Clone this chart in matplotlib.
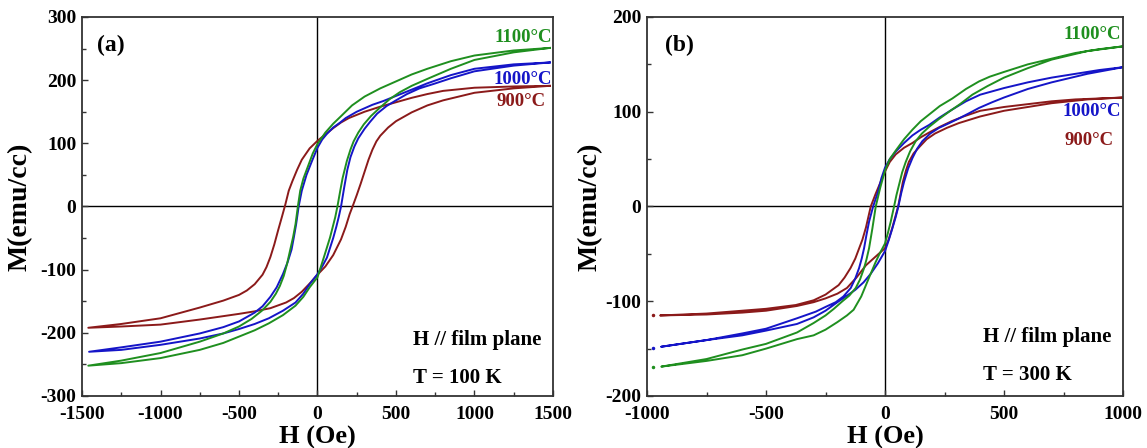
import numpy as np
import matplotlib
matplotlib.use("Agg")
import matplotlib.pyplot as plt
from matplotlib.ticker import MultipleLocator

plt.rcParams['font.family'] = ['Liberation Serif', 'DejaVu Serif']
plt.rcParams['font.weight'] = 'bold'
plt.rcParams['axes.unicode_minus'] = False

# ---- panel (a), T = 100 K ----
# descending branch (from +H to -H) and ascending branch (from -H to +H)
a900_down_H = [1480, 1250, 1000, 800, 700, 600, 500, 400, 300, 200, 150, 100, 50, 0, -50, -100, -130, -160, -183, -205, -225, -250, -275, -300, -325, -350, -400, -450, -500, -600, -750, -1000, -1250, -1460]
a900_down_M = [191, 190, 188, 183, 178, 172, 165, 158, 150, 140, 133, 124, 114, 104, 92, 74, 58, 40, 25, 3, -15, -37, -60, -80, -96, -108, -123, -133, -140, -149, -160, -177, -186, -192]
a900_up_H = [-1460, -1250, -1000, -750, -500, -400, -300, -200, -150, -100, -50, 0, 50, 100, 150, 180, 205, 228, 250, 275, 300, 325, 350, 375, 400, 450, 500, 600, 700, 800, 1000, 1250, 1480]
a900_up_M = [-192, -190, -187, -179, -170, -166, -161, -152, -145, -135, -122, -108, -95, -77, -52, -32, -12, 3, 18, 36, 55, 74, 90, 103, 112, 125, 135, 149, 160, 168, 180, 187, 191]

a1000_down_H = [1480, 1250, 1000, 850, 700, 600, 500, 420, 350, 250, 180, 145, 100, 60, 30, 0, -35, -70, -100, -120, -136, -150, -165, -190, -220, -260, -300, -350, -400, -500, -600, -750, -1000, -1250, -1455]
a1000_down_M = [228, 225, 218, 208, 195, 185, 175, 167, 161, 150, 140, 133, 125, 115, 106, 93, 72, 50, 25, 0, -28, -48, -68, -88, -107, -128, -143, -158, -168, -182, -191, -201, -214, -223, -230]
a1000_up_H = [-1455, -1250, -1000, -750, -600, -500, -400, -310, -220, -140, -90, -50, 0, 30, 60, 100, 120, 135, 150, 170, 190, 210, 235, 260, 300, 335, 380, 440, 500, 570, 650, 740, 850, 1000, 1250, 1480]
a1000_up_M = [-230, -227, -219, -209, -201, -194, -186, -177, -165, -152, -138, -123, -107, -95, -81, -50, -32, -17, 0, 30, 58, 78, 95, 108, 123, 134, 147, 159, 168, 178, 187, 194, 203, 214, 223, 228]

a1100_down_H = [1480, 1250, 1000, 850, 700, 600, 500, 400, 300, 220, 150, 100, 50, 0, -30, -60, -90, -110, -125, -140, -155, -175, -195, -215, -240, -265, -300, -354, -420, -500, -600, -750, -1000, -1250, -1460]
a1100_down_M = [251, 247, 239, 230, 218, 209, 198, 187, 174, 160, 143, 131, 117, 99, 84, 64, 44, 25, 0, -28, -48, -70, -92, -110, -126, -138, -151, -165, -178, -190, -201, -214, -232, -244, -252]
a1100_up_H = [-1460, -1250, -1000, -750, -600, -500, -400, -310, -220, -140, -90, -50, 0, 40, 80, 113, 127, 145, 160, 187, 210, 230, 260, 295, 340, 400, 460, 525, 600, 700, 850, 1000, 1250, 1480]
a1100_up_M = [-252, -248, -240, -227, -216, -206, -196, -185, -172, -157, -143, -128, -112, -81, -49, -17, 0, 25, 45, 72, 90, 103, 117, 130, 143, 157, 170, 181, 191, 202, 218, 232, 244, 251]

# ---- panel (b), T = 300 K ----
b900_down_H = [1000, 900, 800, 700, 600, 500, 400, 330, 280, 230, 185, 150, 115, 80, 45, 20, 0, -20, -40, -60, -80, -95, -110, -125, -145, -170, -195, -250, -300, -375, -500, -600, -750, -945]
b900_down_M = [115, 114, 113, 111, 108, 105, 101, 95, 90, 84, 78, 73, 67, 62, 55, 47, 37, 25, 13, 0, -22, -35, -45, -55, -65, -75, -83, -93, -99, -104, -108, -110, -113, -115]
b900_up_H = [-945, -750, -600, -500, -370, -300, -250, -200, -160, -120, -80, -40, 0, 15, 30, 42, 55, 65, 75, 88, 100, 120, 145, 175, 210, 260, 310, 400, 500, 600, 700, 850, 1000]
b900_up_M = [-115, -114, -112, -110, -105, -101, -97, -92, -86, -75, -62, -53, -44, -35, -23, -12, 0, 13, 26, 38, 47, 56, 63, 71, 77, 83, 88, 95, 101, 105, 109, 113, 115]

b1000_down_H = [1000, 900, 800, 700, 600, 500, 400, 340, 280, 230, 185, 150, 115, 80, 45, 20, 0, -15, -30, -50, -67, -78, -88, -98, -109, -125, -144, -175, -207, -250, -291, -370, -500, -600, -750, -940]
b1000_down_M = [147, 144, 140, 136, 131, 125, 118, 111, 102, 94, 86, 81, 75, 67, 58, 50, 41, 30, 15, 0, -16, -30, -44, -55, -65, -76, -86, -95, -101, -106, -111, -118, -129, -134, -141, -148]
b1000_up_H = [-940, -750, -600, -500, -370, -300, -250, -200, -165, -125, -90, -60, -30, 0, 15, 31, 45, 56, 68, 80, 97, 115, 135, 157, 190, 227, 270, 311, 350, 395, 450, 500, 600, 700, 850, 1000]
b1000_up_M = [-148, -141, -136, -131, -124, -117, -110, -101, -95, -88, -80, -71, -60, -47, -36, -23, -11, 0, 14, 26, 40, 51, 61, 69, 77, 83, 88, 93, 98, 104, 110, 115, 124, 131, 140, 147]

b1100_down_H = [1000, 900, 800, 700, 600, 500, 440, 395, 340, 283, 230, 185, 150, 115, 80, 45, 20, 0, -20, -39, -53, -67, -78, -88, -105, -123, -150, -179, -215, -250, -300, -370, -500, -600, -750, -940]
b1100_down_M = [169, 166, 162, 156, 150, 142, 137, 132, 124, 114, 106, 97, 90, 81, 71, 59, 50, 38, 20, 0, -23, -44, -56, -65, -77, -86, -94, -100, -108, -115, -123, -133, -145, -151, -161, -169]
b1100_up_H = [-940, -750, -600, -500, -370, -300, -250, -200, -160, -132, -100, -67, -40, -25, 0, 12, 24, 38, 48, 59, 72, 87, 105, 129, 155, 185, 225, 269, 315, 367, 430, 500, 600, 700, 850, 1000]
b1100_up_M = [-169, -163, -157, -150, -140, -136, -130, -122, -115, -109, -95, -75, -59, -51, -39, -28, -16, 0, 12, 23, 36, 47, 58, 69, 77, 84, 92, 100, 108, 118, 127, 136, 146, 155, 164, 169]

# isolated first points in panel (b)
b_start_H = [-975, -975, -975]
b_start_M = [-115, -149, -169]

c_red = '#8b1a1a'
c_blue = '#1515c8'
c_green = '#1f8f1f'

fig = plt.figure(figsize=(11.47, 4.48), dpi=100)
ax1 = fig.add_axes([0.0715, 0.1161, 0.4106, 0.846])
ax2 = fig.add_axes([0.5641, 0.1161, 0.4150, 0.846])


def draw_loop(ax, dH, dM, uH, uM, color):
    ax.plot(dH + uH, dM + uM, color=color, lw=1.4, solid_joinstyle='round')


draw_loop(ax1, a900_down_H, a900_down_M, a900_up_H, a900_up_M, c_red)
draw_loop(ax1, a1000_down_H, a1000_down_M, a1000_up_H, a1000_up_M, c_blue)
draw_loop(ax1, a1100_down_H, a1100_down_M, a1100_up_H, a1100_up_M, c_green)

draw_loop(ax2, b900_down_H, b900_down_M, b900_up_H, b900_up_M, c_red)
draw_loop(ax2, b1000_down_H, b1000_down_M, b1000_up_H, b1000_up_M, c_blue)
draw_loop(ax2, b1100_down_H, b1100_down_M, b1100_up_H, b1100_up_M, c_green)
for h, m, c in zip(b_start_H, b_start_M, [c_red, c_blue, c_green]):
    ax2.plot(h, m, '.', color=c, ms=3)

ax1.set_xlim(-1500, 1500)
ax1.set_ylim(-300, 300)
ax2.set_xlim(-1000, 1000)
ax2.set_ylim(-200, 200)

for ax in [ax1, ax2]:
    ax.axhline(0, color='black', lw=1.0, zorder=0)
    ax.axvline(0, color='black', lw=1.0, zorder=0)
    ax.xaxis.set_major_locator(MultipleLocator(500))
    ax.xaxis.set_minor_locator(MultipleLocator(250))
    ax.yaxis.set_major_locator(MultipleLocator(100))
    ax.yaxis.set_minor_locator(MultipleLocator(50))
    ax.tick_params(which='both', direction='in', top=False, right=False,
                   labelsize=14, width=1.0, color='#333333')
    ax.tick_params(which='major', length=4)
    ax.tick_params(which='minor', length=3)
    ax.tick_params(axis='x', which='major', pad=7)
    ax.tick_params(axis='y', which='major', pad=4)
    for s in ax.spines.values():
        s.set_linewidth(1.3)
        s.set_color('#333333')
    for lab in ax.get_xticklabels() + ax.get_yticklabels():
        lab.set_fontweight('bold')
    ax.set_xlabel('H (Oe)', fontsize=19, fontweight='bold')
    ax.set_ylabel('M(emu/cc)', fontsize=20, fontweight='bold')
    ax.xaxis.set_label_coords(0.5, -0.078)

ax1.yaxis.set_label_coords(-0.105, 0.5)
ax2.yaxis.set_label_coords(-0.093, 0.5)

# panel labels and annotations
ax1.text(0.032, 0.925, '(a)', transform=ax1.transAxes, fontsize=17, fontweight='bold', va='center')
ax2.text(0.038, 0.925, '(b)', transform=ax2.transAxes, fontsize=17, fontweight='bold', va='center')

ax1.text(0.998, 0.945, '1100°C', transform=ax1.transAxes, color=c_green, fontsize=13.5, fontweight='bold', ha='right', va='center')
ax1.text(0.998, 0.834, '1000°C', transform=ax1.transAxes, color=c_blue, fontsize=13.5, fontweight='bold', ha='right', va='center')
ax1.text(0.985, 0.776, '900°C', transform=ax1.transAxes, color=c_red, fontsize=13.5, fontweight='bold', ha='right', va='center')

ax2.text(0.995, 0.953, '1100°C', transform=ax2.transAxes, color=c_green, fontsize=13.5, fontweight='bold', ha='right', va='center')
ax2.text(0.995, 0.750, '1000°C', transform=ax2.transAxes, color=c_blue, fontsize=13.5, fontweight='bold', ha='right', va='center')
ax2.text(0.980, 0.673, '900°C', transform=ax2.transAxes, color=c_red, fontsize=13.5, fontweight='bold', ha='right', va='center')

ax1.text(0.703, 0.148, 'H // film plane', transform=ax1.transAxes, fontsize=15, fontweight='bold', va='center')
ax1.text(0.703, 0.047, 'T = 100 K', transform=ax1.transAxes, fontsize=15, fontweight='bold', va='center')
ax2.text(0.706, 0.155, 'H // film plane', transform=ax2.transAxes, fontsize=15, fontweight='bold', va='center')
ax2.text(0.706, 0.055, 'T = 300 K', transform=ax2.transAxes, fontsize=15, fontweight='bold', va='center')

fig.savefig('out.png', dpi=100)
